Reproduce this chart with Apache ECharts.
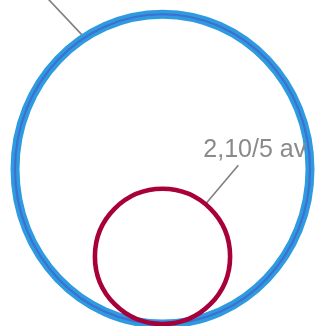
<!DOCTYPE html>
<html>
<head>
<meta charset="utf-8">
<script src="https://cdn.jsdelivr.net/npm/echarts@6/dist/echarts.min.js"></script>
<style>
  html, body { margin: 0; padding: 0; background: #fff; }
  #main { width: 315px; height: 326px; }
</style>
</head>
<body>
<div id="main"></div>
<script>
// data
var categories = ['Totalt'];
var bubbleNames = ['10/5', '2,10/5 av'];
var bubbleValues = [10, 2.1];

// styles
var maxValue = 10;
var maxRadius = 147.5;
var leaders = [
    { theta: -121.9, phi: -133.3, len: 120, dx: -4, dy: 0, align: 'right', stretch: 1.05 },
    { theta: -50.6, phi: -49.8, len: 51, dx: -35, dy: -15, align: 'left', stretch: 1 }
];

function rad(d) { return d * Math.PI / 180; }

function renderBubble(params, api) {
    var i = params.dataIndex;
    var ld = leaders[i];
    var base = api.coord([api.value(0), api.value(1)]);
    var rx = maxRadius * Math.sqrt(api.value(2) / maxValue);
    var ry = rx * ld.stretch;
    var cx = base[0];
    var cy = base[1] - ry;
    var x1 = cx + rx * Math.cos(rad(ld.theta));
    var y1 = cy + ry * Math.sin(rad(ld.theta));
    var x2 = x1 + ld.len * Math.cos(rad(ld.phi));
    var y2 = y1 + ld.len * Math.sin(rad(ld.phi));
    var shape = { cx: cx, cy: cy, rx: rx, ry: ry };

    var children = [{
        type: 'line',
        shape: { x1: x1, y1: y1, x2: x2, y2: y2 },
        style: { stroke: '#7f7f7f', lineWidth: 1.6 }
    }];
    if (i === 0) {
        children.push({
            type: 'ellipse',
            shape: shape,
            style: { fill: 'none', stroke: '#2e9be0', lineWidth: 9 }
        }, {
            type: 'ellipse',
            shape: shape,
            style: { fill: 'none', stroke: '#3f70cf', lineWidth: 2.2 }
        });
    } else {
        children.push({
            type: 'ellipse',
            shape: shape,
            style: { fill: 'none', stroke: '#a8003b', lineWidth: 4.6 }
        });
    }
    children.push({
        type: 'text',
        style: {
            text: bubbleNames[i],
            x: x2 + ld.dx,
            y: y2 + ld.dy,
            align: ld.align,
            verticalAlign: 'middle',
            font: '25px "Liberation Sans", Arial, sans-serif',
            fill: '#8a8a8a'
        }
    });
    return { type: 'group', children: children };
}

var chart = echarts.init(document.getElementById('main'));
chart.setOption({
    animation: false,
    grid: { left: 10, right: 0, top: 0, bottom: 2 },
    xAxis: { type: 'category', data: categories, show: false },
    yAxis: { type: 'value', min: 0, max: 1, show: false },
    series: [{
        type: 'custom',
        renderItem: renderBubble,
        encode: { x: 0, y: 1 },
        data: bubbleValues.map(function (v) { return [0, 0, v]; })
    }]
});
</script>
</body>
</html>
